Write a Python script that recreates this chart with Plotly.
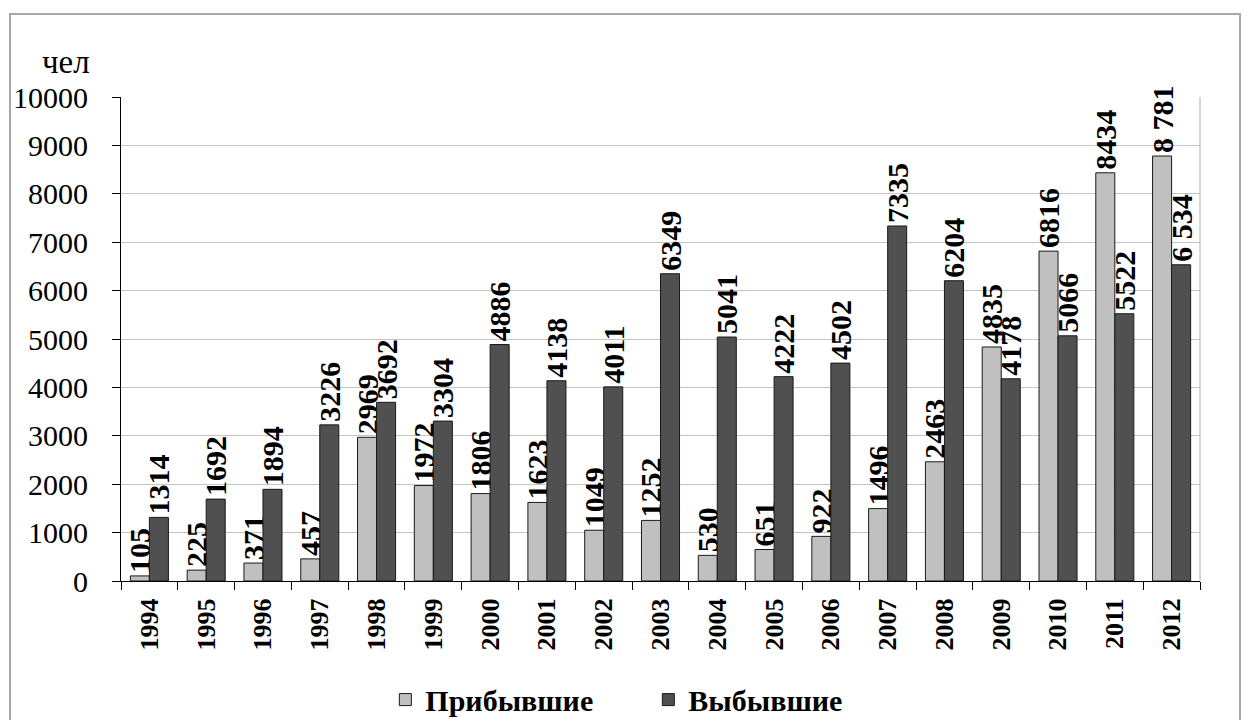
import plotly.graph_objects as go

years = [str(y) for y in range(1994, 2013)]
arrived = [105, 225, 371, 457, 2969, 1972, 1806, 1623, 1049, 1252,
           530, 651, 922, 1496, 2463, 4835, 6816, 8434, 8781]
departed = [1314, 1692, 1894, 3226, 3692, 3304, 4886, 4138, 4011, 6349,
            5041, 4222, 4502, 7335, 6204, 4178, 5066, 5522, 6534]
y_ticks = list(range(0, 10001, 1000))


def fmt(values):
    # the 2012 figures are written with a space as thousands separator
    out = [str(v) for v in values]
    out[-1] = f"{values[-1]:,}".replace(",", " ")
    return out


SERIF = "Times New Roman, Liberation Serif, DejaVu Serif, serif"
LIGHT = "#c0c0c0"
DARK = "#505050"

# figure is drawn inside the page's 8px body margin
W, H = 1242, 712
L, R, T, B = 113, 50, 89, 139
pw, ph = W - L - R, H - T - B

fig = go.Figure()

for name, vals, color in [("Прибывшие", arrived, LIGHT), ("Выбывшие", departed, DARK)]:
    fig.add_trace(
        go.Bar(
            name=name,
            x=years,
            y=vals,
            marker=dict(color=color, line=dict(color="#1a1a1a", width=1)),
            text=fmt(vals),
            textposition="outside",
            textangle=-90,
            constraintext="none",
            cliponaxis=False,
            textfont=dict(family=SERIF, size=30, color="black", weight="bold"),
        )
    )

fig.update_layout(
    width=W,
    height=H,
    barmode="group",
    bargap=0.33,
    bargroupgap=0,
    plot_bgcolor="white",
    paper_bgcolor="white",
    margin=dict(l=L, r=R, t=T, b=B, autoexpand=False),
    legend=dict(
        orientation="h",
        x=0.245,
        xanchor="left",
        y=-0.245,
        yanchor="middle",
        font=dict(family=SERIF, size=30, color="black", weight="bold"),
        entrywidth=218,
        itemwidth=30,
    ),
    xaxis=dict(
        type="category",
        showline=True,
        linecolor="black",
        linewidth=1,
        ticks="outside",
        ticklen=8,
        tickcolor="black",
        tickson="boundaries",
        tickangle=-90,
        ticklabelstandoff=6,
        tickfont=dict(family=SERIF, size=26, color="black", weight="bold"),
        showgrid=False,
    ),
    yaxis=dict(
        range=[0, 10000],
        tickvals=y_ticks,
        tickformat="d",
        showline=True,
        linecolor="black",
        linewidth=1,
        ticks="outside",
        ticklen=8,
        tickcolor="black",
        ticklabelstandoff=18,
        tickfont=dict(family=SERIF, size=30, color="black"),
        showgrid=True,
        gridcolor="#c4c4c4",
        gridwidth=1,
        zeroline=False,
    ),
    annotations=[
        dict(
            text="чел",
            xref="paper",
            yref="paper",
            x=(84 - L) / pw,
            y=(H - B - 54) / ph,
            xanchor="right",
            yanchor="middle",
            showarrow=False,
            font=dict(family=SERIF, size=33, color="black"),
        )
    ],
    shapes=[
        # right edge of plot area
        dict(type="line", xref="paper", yref="paper", x0=1, x1=1, y0=0, y1=1,
             line=dict(color="#b0b0b0", width=1)),
        # outer chart frame
        dict(type="rect", xref="paper", yref="paper",
             x0=(2 - L) / pw, x1=(1232 - L) / pw,
             y0=(H - B - 740) / ph, y1=(H - B - 6) / ph,
             line=dict(color="#a8a8a8", width=2), layer="below"),
    ],
)

fig.write_html("out.html")
